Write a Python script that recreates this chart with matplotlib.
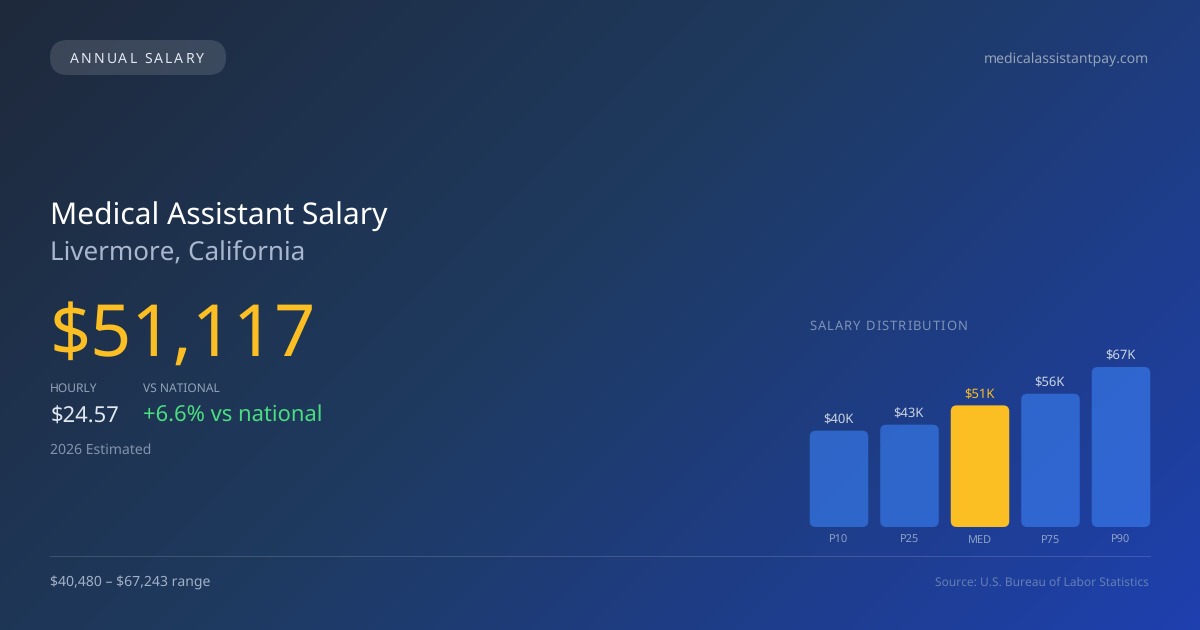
import numpy as np
import matplotlib
matplotlib.use("Agg")
import matplotlib.pyplot as plt
from matplotlib.colors import LinearSegmentedColormap
from matplotlib.patches import FancyBboxPatch
from matplotlib.text import Text

plt.rcParams["font.family"] = ["Noto Sans", "DejaVu Sans"]
plt.rcParams["text.hinting"] = "no_hinting"
plt.rcParams["text.parse_math"] = False

# Chart data
categories = ["P10", "P25", "MED", "P75", "P90"]
salaries = [40480, 43000, 51117, 56000, 67243]
bar_labels = ["$40K", "$43K", "$51K", "$56K", "$67K"]
median_index = 2

W, H = 1200, 630
px = 0.72  # font px to points at dpi 100


# Text that keeps its whole string but draws with CSS style letter spacing
class SpacedText(Text):
    def __init__(self, *args, spacing=0, **kwargs):
        super().__init__(*args, **kwargs)
        self.spacing = spacing

    def draw(self, renderer):
        full = self.get_text()
        x0 = self.get_position()[0]
        for i, ch in enumerate(full):
            w = 0
            if i > 0:
                w = renderer.get_text_width_height_descent(full[:i] + ".", self.get_fontproperties(), False)[0]
                w -= renderer.get_text_width_height_descent(".", self.get_fontproperties(), False)[0]
            self.set_text(ch)
            self.set_x(x0 + w + i * self.spacing)
            super().draw(renderer)
        self.set_text(full)
        self.set_x(x0)


fig = plt.figure(figsize=(W / 100, H / 100), dpi=100)

# Background, CSS linear-gradient(135deg, ...)
bg = fig.add_axes([0, 0, 1, 1], zorder=0)
yy, xx = np.mgrid[0:H, 0:W]
t = ((xx - W / 2) + (yy - H / 2)) / (W + H) + 0.5
cmap = LinearSegmentedColormap.from_list("bg", [(0, "#1e293b"), (0.45, "#1e3a5f"), (1, "#1e40af")], N=1024)
bg.imshow(t, cmap=cmap, vmin=0, vmax=1, aspect="auto", extent=(0, W, H, 0))
bg.set_xlim(0, W)
bg.set_ylim(H, 0)
bg.axis("off")

# Header
bg.add_patch(FancyBboxPatch((50, 40), 176, 35, boxstyle="round,pad=0,rounding_size=17.5",
                            fc="white", alpha=0.13, ec="none"))
bg.add_artist(SpacedText(70, 63, "ANNUAL SALARY", spacing=2, color="#e2e8f0", fontsize=14 * px, va="baseline"))
bg.text(1149, 63.4, "medicalassistantpay.com", color="#94a3b8", fontsize=14 * px, ha="right", va="baseline")

# Left column
bg.text(50.5, 224, "Medical Assistant Salary", color="white", fontsize=30 * px, fontweight="medium", va="baseline")
bg.text(50, 261, "Livermore, California", color="#a9b8cf", fontsize=26 * px, va="baseline")
bg.text(50, 356, "$51,117", color="#fbbf24", fontsize=72 * px, fontweight="medium", va="baseline")
bg.text(50, 392, "HOURLY", color="#94a3b8", fontsize=12 * px, va="baseline")
bg.text(143, 392, "VS NATIONAL", color="#94a3b8", fontsize=12 * px, va="baseline")
bg.text(50.5, 422, "$24.57", color="#e2e8f0", fontsize=22 * px, va="baseline")
bg.text(143, 422, "+6.6% vs national", color="#4ade80", fontsize=22 * px, va="baseline")
bg.text(50, 454, "2026 Estimated", color="#8494ab", fontsize=14 * px, va="baseline")

# Footer
bg.plot([50, 1150], [556, 556], color="white", alpha=0.15, lw=0.72)
bg.text(50, 586, "$40,480 – $67,243 range", color="#a3b1c6", fontsize=14 * px, va="baseline")
bg.text(1149, 586, "Source: U.S. Bureau of Labor Statistics", color="#6580b5", fontsize=12 * px, ha="right", va="baseline")

# Bars
bg.add_artist(SpacedText(809.5, 330, "SALARY DISTRIBUTION", spacing=1, color="#7f93b8", fontsize=13 * px, va="baseline"))

pitch = 70.5
bar_px = 58.5
left = 839 - pitch / 2
bottom = 527
top_px = 160
ax = fig.add_axes([left / W, (H - bottom) / H, 5 * pitch / W, top_px / H], zorder=1)
ax.patch.set_alpha(0)
ax.set_xlim(-0.5, 4.5)
ax.set_ylim(0, max(salaries))
for side in ax.spines.values():
    side.set_visible(False)
ax.set_yticks([])
ax.set_xticks(range(len(categories)), categories)
ax.tick_params(axis="x", length=0, pad=16.3 * px, labelsize=11 * px, labelcolor="#8ea2c6")
for tick in ax.get_xticklabels():
    tick.set_va("baseline")

bar_w = bar_px / pitch
r = 6 / pitch
aspect = (max(salaries) / top_px) * pitch
for i, val in enumerate(salaries):
    if i == median_index:
        patch = dict(fc="#fbbf24", alpha=1.0)
        lab = "#fbbf24"
    else:
        patch = dict(fc="#3b82f6", alpha=0.6)
        lab = "#cbd5e1"
    ax.add_patch(FancyBboxPatch((i - bar_w / 2, 0), bar_w, val, boxstyle=f"round,pad=0,rounding_size={r}",
                                mutation_aspect=aspect, ec="none", clip_on=False, **patch))
    ax.annotate(bar_labels[i], (i - 0.01, val), xytext=(0, 7.5 * px), textcoords="offset points",
                ha="center", va="baseline", color=lab, fontsize=13 * px, annotation_clip=False)

fig.savefig("out.png", dpi=100)
